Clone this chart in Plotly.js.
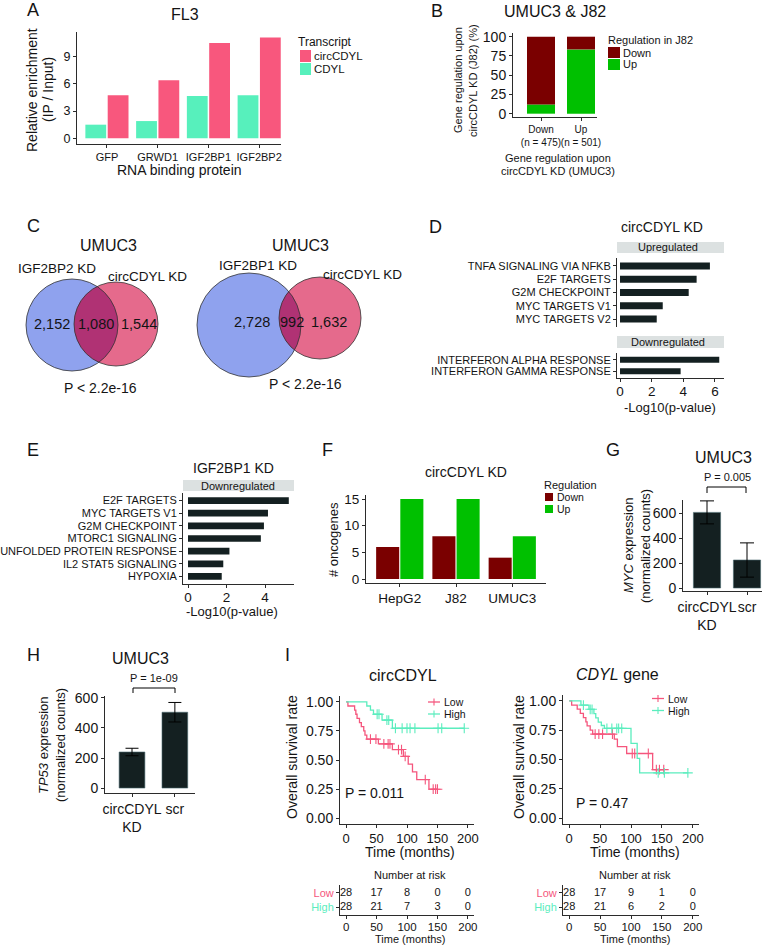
<!DOCTYPE html>
<html><head><meta charset="utf-8">
<script src="https://cdn.plot.ly/plotly-3.0.1.min.js"></script>
<style>html,body{margin:0;padding:0;background:#fff}#chart{width:778px;height:945px}</style>
</head><body><div id="chart"></div>
<script>
// ---------------- DATA ----------------
// A
const aProteins = ['GFP', 'GRWD1', 'IGF2BP1', 'IGF2BP2'];
const aCircCDYL = [4.75, 6.4, 10.5, 11.1];
const aCDYL = [1.5, 1.9, 4.65, 4.75];
// B
const bUmuc3Groups = ['Down<br>(n = 475)', 'Up<br>(n = 501)'];
const bUpInJ82 = [12, 83.5];
const bDownInJ82 = [88, 16.5];
// C
const cLeftSets = ['IGF2BP2 KD', 'circCDYL KD'];
const cLeftCounts = [2152, 1080, 1544];
const cRightSets = ['IGF2BP1 KD', 'circCDYL KD'];
const cRightCounts = [2728, 992, 1632];
const cPValue = 'P < 2.2e-16';
// D
const dUpTerms = ['TNFA SIGNALING VIA NFKB', 'E2F TARGETS', 'G2M CHECKPOINT', 'MYC TARGETS V1', 'MYC TARGETS V2'];
const dUpLogP = [5.68, 4.84, 4.34, 2.7, 2.32];
const dDownTerms = ['INTERFERON ALPHA RESPONSE', 'INTERFERON GAMMA RESPONSE'];
const dDownLogP = [6.27, 3.83];
// E
const eTerms = ['E2F TARGETS', 'MYC TARGETS V1', 'G2M CHECKPOINT', 'MTORC1 SIGNALING', 'UNFOLDED PROTEIN RESPONSE', 'IL2 STAT5 SIGNALING', 'HYPOXIA'];
const eLogP = [5.23, 4.15, 3.94, 3.78, 2.15, 1.83, 1.75];
// F
const fCellLines = ['HepG2', 'J82', 'UMUC3'];
const fDown = [6, 8, 4];
const fUp = [15, 15, 8];
// G
const gGroups = ['circCDYL<br>KD', 'scr'];
const gMycMean = [605, 224];
const gMycErr = [92, 137];
// H
const hGroups = ['circCDYL<br>KD', 'scr'];
const hTp53Mean = [240, 505];
const hTp53Err = [25, 65];
// I  (Kaplan-Meier)
const kmCircLowT = [0, 3, 14, 16, 18, 22, 25, 29, 31, 34, 53, 76, 94, 102, 109, 116, 136, 150];
const kmCircLowS = [1, 0.964, 0.929, 0.893, 0.857, 0.821, 0.786, 0.75, 0.714, 0.679, 0.639, 0.59, 0.531, 0.465, 0.398, 0.332, 0.249, 0.249];
const kmCircLowCens = [40, 49, 62, 69, 72, 86, 91, 97, 130, 143, 147, 150];
const kmCircHighT = [0, 34, 40, 45, 59, 76, 194];
const kmCircHighS = [1, 0.964, 0.929, 0.893, 0.843, 0.773, 0.773];
const kmCircHighCens = [51, 54, 67, 70, 81, 92, 100, 105, 113, 151, 157, 194];
const kmGeneLowT = [0, 4, 13, 18, 23, 27, 29, 34, 38, 73, 78, 93, 135, 153];
const kmGeneLowS = [1, 0.964, 0.929, 0.893, 0.857, 0.821, 0.786, 0.75, 0.716, 0.674, 0.61, 0.551, 0.414, 0.414];
const kmGeneLowCens = [42, 48, 54, 70, 102, 106, 128, 141, 146, 153];
const kmGeneHighT = [0, 19, 32, 40, 43, 47, 52, 57, 100, 110, 114, 192];
const kmGeneHighS = [1, 0.964, 0.928, 0.892, 0.855, 0.818, 0.79, 0.766, 0.637, 0.509, 0.386, 0.386];
const kmGeneHighCens = [23, 34, 37, 61, 69, 77, 80, 85, 144, 154, 192];
const riskTimes = [0, 50, 100, 150, 200];
const riskCircLow = [28, 17, 8, 0, 0];
const riskCircHigh = [28, 21, 7, 3, 0];
const riskGeneLow = [28, 17, 9, 1, 0];
const riskGeneHigh = [28, 21, 6, 2, 0];
const pCirc = 'P = 0.011';
const pGene = 'P = 0.47';

// ---------------- STYLE ----------------
const W = 778, H = 945;
const FONT = 'Liberation Sans, Arial, Helvetica, sans-serif';
const INK = '#141414';
const AX = '#2b2b2b';
const C_CIRC = '#F8577D', C_CDYL = '#57F0BC';
const DARKRED = '#7A0000', GREEN = '#00C000';
const DARKBAR = '#142021';
const KM_LOW = '#F5567D', KM_HIGH = '#5BEDBE';
const V_BLUE = '#8FA2EE', V_PINK = '#E56A8C', V_LENS = '#B03274';

const PX = x => x / W, PY = y => 1 - y / H;
const xd = (a, b) => [a / W, b / W];
const yd = (top, bottom) => [1 - bottom / H, 1 - top / H];

const annotations = [], shapes = [];
function txt(text, x, y, size, o = {}) {
  annotations.push({
    text, x: PX(x), y: PY(y), xref: 'paper', yref: 'paper', showarrow: false, borderpad: 0,
    xanchor: o.anchor || 'center', yanchor: 'middle', textangle: o.angle || 0,
    font: {family: FONT, size, color: o.color || INK}
  });
}
function rect(x0, y0, x1, y1, fill) {
  shapes.push({type: 'rect', xref: 'paper', yref: 'paper', x0: PX(x0), x1: PX(x1), y0: PY(y1), y1: PY(y0),
    fillcolor: fill, line: {width: 0}});
}
function seg(x0, y0, x1, y1, color, w) {
  shapes.push({type: 'line', xref: 'paper', yref: 'paper', x0: PX(x0), y0: PY(y0), x1: PX(x1), y1: PY(y1),
    line: {color, width: w || 1}});
}
function circ(cx, cy, r, fill, lineColor) {
  shapes.push({type: 'circle', xref: 'paper', yref: 'paper', x0: PX(cx - r), x1: PX(cx + r), y0: PY(cy + r), y1: PY(cy - r),
    fillcolor: fill, line: {color: lineColor || fill, width: lineColor ? 0.8 : 0}});
}
function lens(c1, r1, c2, r2, fill) {
  const dx = c2[0] - c1[0], dy = c2[1] - c1[1], d = Math.hypot(dx, dy);
  const a = (r1 * r1 - r2 * r2 + d * d) / (2 * d);
  const t12 = Math.atan2(dy, dx), t21 = t12 + Math.PI;
  const al1 = Math.acos(a / r1), al2 = Math.acos((d - a) / r2);
  const pts = [], N = 48;
  for (let i = 0; i <= N; i++) { const th = t12 - al1 + 2 * al1 * i / N; pts.push([c1[0] + r1 * Math.cos(th), c1[1] + r1 * Math.sin(th)]); }
  for (let i = 0; i <= N; i++) { const th = t21 - al2 + 2 * al2 * i / N; pts.push([c2[0] + r2 * Math.cos(th), c2[1] + r2 * Math.sin(th)]); }
  const path = pts.map((p, i) => (i ? 'L' : 'M') + PX(p[0]).toFixed(5) + ',' + PY(p[1]).toFixed(5)).join(' ') + ' Z';
  shapes.push({type: 'path', xref: 'paper', yref: 'paper', path, fillcolor: fill, line: {width: 0}});
}
function axis(domain, extra) {
  return Object.assign({
    domain, showgrid: false, zeroline: false, showline: true, linecolor: AX, linewidth: 1,
    ticks: 'outside', ticklen: 3, tickcolor: AX, tickwidth: 1, fixedrange: true, tickangle: 0,
    tickfont: {family: FONT, size: 12, color: INK}
  }, extra);
}
function catAxis(domain, cats, extra) {
  return axis(domain, Object.assign({type: 'category', categoryorder: 'array', categoryarray: cats,
    tickmode: 'array', tickvals: cats, ticktext: cats}, extra));
}
const tf = s => ({family: FONT, size: s, color: INK});
function survAt(times, surv, t) { let s = surv[0]; for (let i = 0; i < times.length; i++) if (times[i] <= t) s = surv[i]; return s; }

const traces = [];
const layout = {
  width: W, height: H, margin: {l: 0, r: 0, t: 0, b: 0},
  paper_bgcolor: '#ffffff', plot_bgcolor: 'rgba(0,0,0,0)', showlegend: false,
  barmode: 'overlay', font: {family: FONT, color: INK}, annotations, shapes
};

// ---------------- A ----------------
traces.push({type: 'bar', x: aProteins, y: aCDYL, xaxis: 'x', yaxis: 'y', width: 0.41, offset: -0.425, marker: {color: C_CDYL}});
traces.push({type: 'bar', x: aProteins, y: aCircCDYL, xaxis: 'x', yaxis: 'y', width: 0.41, offset: 0.015, marker: {color: C_CIRC}});
layout.xaxis = catAxis(xd(77, 281), aProteins, {anchor: 'y', range: [-0.59, 3.43], tickfont: tf(11)});
layout.yaxis = axis(yd(32, 144), {anchor: 'x', range: [-0.63, 11.72], tickvals: [0, 3, 6, 9], tickfont: tf(12.5)});
txt('A', 33, 10, 18);
txt('FL3', 185, 14, 16);
txt('Relative enrichment', 32, 90, 14, {angle: -90});
txt('(IP / Input)', 48, 90, 14, {angle: -90});
txt('RNA binding protein', 179, 170, 14);
txt('Transcript', 297, 42, 12, {anchor: 'left'});
rect(300, 50, 311, 62, C_CIRC); txt('circCDYL', 313, 56, 11.5, {anchor: 'left'});
rect(300, 63, 311, 75, C_CDYL); txt('CDYL', 313, 69, 11.5, {anchor: 'left'});

// ---------------- B ----------------
traces.push({type: 'bar', x: bUmuc3Groups, y: bUpInJ82, xaxis: 'x2', yaxis: 'y2', width: 0.7, marker: {color: GREEN}});
traces.push({type: 'bar', x: bUmuc3Groups, y: bDownInJ82, base: bUpInJ82, xaxis: 'x2', yaxis: 'y2', width: 0.7, marker: {color: DARKRED}});
layout.xaxis2 = catAxis(xd(513, 597), bUmuc3Groups, {anchor: 'y2', range: [-0.7, 1.4], tickfont: tf(10)});
layout.yaxis2 = axis(yd(33, 117), {anchor: 'x2', range: [-4.3, 104.8], tickvals: [0, 25, 50, 75, 100], tickfont: tf(14)});
txt('B', 437, 11, 18);
txt('UMUC3 &amp; J82', 555, 11, 16);
txt('Gene regulation upon', 458, 80, 11, {angle: -90});
txt('circCDYL KD (J82) (%)', 473, 80, 11, {angle: -90});
txt('Gene regulation upon', 558, 158, 11);
txt('circCDYL KD (UMUC3)', 558, 171, 11);
txt('Regulation in J82', 607, 40, 11, {anchor: 'left'});
rect(608, 47, 620, 58, DARKRED); txt('Down', 622, 52.5, 11, {anchor: 'left'});
rect(608, 59, 620, 70, GREEN); txt('Up', 622, 64.5, 11, {anchor: 'left'});

// ---------------- C (Venn) ----------------
const fmt = n => n.toLocaleString('en-US');
txt('C', 33, 226, 18);
(function () {
  const b = [72, 325], rb = 46, p = [116, 324], rp = 42;
  circ(b[0], b[1], rb, V_BLUE); circ(p[0], p[1], rp, V_PINK); lens(b, rb, p, rp, V_LENS);
  circ(b[0], b[1], rb, 'rgba(0,0,0,0)', '#333'); circ(p[0], p[1], rp, 'rgba(0,0,0,0)', '#333');
  txt('UMUC3', 108, 246, 16);
  txt(cLeftSets[0], 57, 268, 13.5); txt(cLeftSets[1], 147, 276, 13.5);
  txt(fmt(cLeftCounts[0]), 52, 324, 14.5); txt(fmt(cLeftCounts[1]), 96, 324, 14.5); txt(fmt(cLeftCounts[2]), 139, 324, 14.5);
  txt(cPValue, 100, 388, 14);
})();
(function () {
  const b = [249, 325], rb = 52, p = [320, 318], rp = 41;
  circ(b[0], b[1], rb, V_BLUE); circ(p[0], p[1], rp, V_PINK); lens(b, rb, p, rp, V_LENS);
  circ(b[0], b[1], rb, 'rgba(0,0,0,0)', '#333'); circ(p[0], p[1], rp, 'rgba(0,0,0,0)', '#333');
  txt('UMUC3', 300, 246, 16);
  txt(cRightSets[0], 258, 265, 13.5); txt(cRightSets[1], 362, 274, 13.5);
  txt(fmt(cRightCounts[0]), 252, 322, 14.5); txt(fmt(cRightCounts[1]), 292, 322, 14.5); txt(fmt(cRightCounts[2]), 329, 322, 14.5);
  txt(cPValue, 305, 384, 14);
})();

// ---------------- D ----------------
traces.push({type: 'bar', orientation: 'h', y: dUpTerms, x: dUpLogP, xaxis: 'x3', yaxis: 'y3', width: 0.53, marker: {color: DARKBAR}});
traces.push({type: 'bar', orientation: 'h', y: dDownTerms, x: dDownLogP, xaxis: 'x4', yaxis: 'y4', width: 0.53, marker: {color: DARKBAR}});
layout.xaxis3 = axis(xd(617, 724), {anchor: 'y3', range: [-0.19, 6.57], showline: false, ticks: '', showticklabels: false});
layout.yaxis3 = catAxis(yd(258, 327), dUpTerms, {anchor: 'x3', range: [4.6, -0.6], tickfont: tf(11)});
layout.xaxis4 = axis(xd(617, 724), {anchor: 'y4', range: [-0.19, 6.57], tickvals: [0, 2, 4, 6], tickfont: tf(13.5), ticklabelstandoff: -2});
layout.yaxis4 = catAxis(yd(353, 378), dDownTerms, {anchor: 'x4', range: [1.6, -0.6], tickfont: tf(11)});
txt('D', 435, 227, 18);
txt('circCDYL KD', 662, 227, 14);
rect(617, 242, 724, 253, '#DCE1E1'); txt('Upregulated', 668, 247.5, 11);
rect(617, 336, 724, 348, '#DCE1E1'); txt('Downregulated', 668, 342, 11);
txt('-Log10(p-value)', 670, 407, 13);

// ---------------- E ----------------
traces.push({type: 'bar', orientation: 'h', y: eTerms, x: eLogP, xaxis: 'x5', yaxis: 'y5', width: 0.53, marker: {color: DARKBAR}});
layout.xaxis5 = axis(xd(183, 294), {anchor: 'y5', range: [-0.26, 5.5], tickvals: [0, 2, 4], tickfont: tf(13.5), ticklabelstandoff: -2});
layout.yaxis5 = catAxis(yd(493, 584), eTerms, {anchor: 'x5', range: [6.6, -0.6], tickfont: tf(11)});
txt('E', 33, 450, 18);
txt('IGF2BP1 KD', 234, 468, 14);
rect(183, 480, 294, 491, '#DCE1E1'); txt('Downregulated', 238, 485.5, 11);
txt('-Log10(p-value)', 232, 611, 13);

// ---------------- F ----------------
traces.push({type: 'bar', x: fCellLines, y: fDown, xaxis: 'x6', yaxis: 'y6', width: 0.41, offset: -0.42, marker: {color: DARKRED}});
traces.push({type: 'bar', x: fCellLines, y: fUp, xaxis: 'x6', yaxis: 'y6', width: 0.41, offset: 0.01, marker: {color: GREEN}});
layout.xaxis6 = catAxis(xd(366, 546), fCellLines, {anchor: 'y6', range: [-0.6, 2.6], tickfont: tf(13.5)});
layout.yaxis6 = axis(yd(495, 583), {anchor: 'x6', range: [-0.75, 15.75], tickvals: [0, 5, 10, 15], tickfont: tf(13.5)});
txt('F', 327, 450, 18);
txt('circCDYL KD', 466, 472, 14);
txt('# oncogenes', 333, 540, 13, {angle: -90});
txt('Regulation', 543, 485, 11, {anchor: 'left'});
rect(545, 493, 553, 501, DARKRED); txt('Down', 556, 497, 10.5, {anchor: 'left'});
rect(545, 505, 553, 513, GREEN); txt('Up', 556, 509, 10.5, {anchor: 'left'});

// ---------------- G ----------------
traces.push({type: 'bar', x: gGroups, y: gMycMean, xaxis: 'x7', yaxis: 'y7', width: 0.68,
  marker: {color: DARKBAR, line: {color: '#4a6a70', width: 0.6}},
  error_y: {type: 'data', array: gMycErr, visible: true, color: '#000', thickness: 1, width: 7}});
layout.xaxis7 = catAxis(xd(683, 762), gGroups, {anchor: 'y7', range: [-0.6, 1.375], tickfont: tf(14)});
layout.yaxis7 = axis(yd(500, 591), {anchor: 'x7', range: [-24, 704], tickvals: [0, 200, 400, 600], tickfont: tf(14)});
txt('G', 613, 450, 18);
txt('UMUC3', 723, 457, 16);
txt('P = 0.005', 727, 477, 11);
seg(707, 487, 746, 487, '#000', 1); seg(707, 487, 707, 493, '#000', 1); seg(746, 487, 746, 493, '#000', 1);
txt('<i>MYC</i> expression', 628, 546, 13, {angle: -90});
txt('(normalized counts)', 645, 546, 13, {angle: -90});

// ---------------- H ----------------
traces.push({type: 'bar', x: hGroups, y: hTp53Mean, xaxis: 'x8', yaxis: 'y8', width: 0.6,
  marker: {color: DARKBAR, line: {color: '#4a6a70', width: 0.6}},
  error_y: {type: 'data', array: hTp53Err, visible: true, color: '#000', thickness: 1, width: 6.5}});
layout.xaxis8 = catAxis(xd(105, 195), hGroups, {anchor: 'y8', range: [-0.63, 1.47], tickfont: tf(14)});
layout.yaxis8 = axis(yd(696, 793), {anchor: 'x8', range: [-33, 613], tickvals: [0, 200, 400, 600], tickfont: tf(14)});
txt('H', 33, 655, 18);
txt('UMUC3', 140, 658, 16);
txt('P = 1e-09', 154, 678, 11);
seg(133, 688, 175, 688, '#000', 1); seg(133, 688, 133, 693, '#000', 1); seg(175, 688, 175, 693, '#000', 1);
txt('<i>TP53</i> expression', 43, 745, 13, {angle: -90});
txt('(normalized counts)', 60, 745, 13, {angle: -90});

// ---------------- I ----------------
function km(xa, ya, T, S, cens, color) {
  traces.push({type: 'scatter', mode: 'lines', x: T, y: S, xaxis: xa, yaxis: ya, line: {shape: 'hv', color, width: 1.3}, cliponaxis: false});
  traces.push({type: 'scatter', mode: 'markers', x: cens, y: cens.map(t => survAt(T, S, t)), xaxis: xa, yaxis: ya, cliponaxis: false,
    marker: {symbol: 'cross-thin', size: 7, color, line: {color, width: 1.1}}});
}
km('x9', 'y9', kmCircLowT, kmCircLowS, kmCircLowCens, KM_LOW);
km('x9', 'y9', kmCircHighT, kmCircHighS, kmCircHighCens, KM_HIGH);
km('x10', 'y10', kmGeneLowT, kmGeneLowS, kmGeneLowCens, KM_LOW);
km('x10', 'y10', kmGeneHighT, kmGeneHighS, kmGeneHighCens, KM_HIGH);
const kmY = {range: [-0.05, 1.05], tickvals: [0, 0.25, 0.5, 0.75, 1], ticktext: ['0.00', '0.25', '0.50', '0.75', '1.00'], tickfont: tf(14)};
const kmX = {range: [-10, 210], tickvals: riskTimes, tickfont: tf(13), ticklabelstandoff: -1};
layout.xaxis9 = axis(xd(340, 474), Object.assign({anchor: 'y9'}, kmX));
layout.yaxis9 = axis(yd(696, 824), Object.assign({anchor: 'x9'}, kmY));
layout.xaxis10 = axis(xd(563, 699), Object.assign({anchor: 'y10'}, kmX));
layout.yaxis10 = axis(yd(695, 824), Object.assign({anchor: 'x10'}, kmY));

// risk tables
function riskTable(xa, ya, low, high) {
  traces.push({type: 'scatter', mode: 'text', x: riskTimes, y: riskTimes.map(() => 1), text: low.map(String), xaxis: xa, yaxis: ya, textfont: tf(11), cliponaxis: false});
  traces.push({type: 'scatter', mode: 'text', x: riskTimes, y: riskTimes.map(() => 0), text: high.map(String), xaxis: xa, yaxis: ya, textfont: tf(11), cliponaxis: false});
}
riskTable('x11', 'y11', riskCircLow, riskCircHigh);
riskTable('x12', 'y12', riskGeneLow, riskGeneHigh);
const tblY = {range: [-0.57, 1.57], tickmode: 'array', tickvals: [0, 1], tickfont: tf(11),
  ticktext: ['<span style="color:' + KM_HIGH + '">High</span>', '<span style="color:' + KM_LOW + '">Low</span>']};
const tblX = {range: [-10, 210], tickvals: riskTimes, tickfont: tf(11.5), ticklabelstandoff: -2};
layout.xaxis11 = axis(xd(340, 474), Object.assign({anchor: 'y11'}, tblX));
layout.yaxis11 = axis(yd(885, 915), Object.assign({anchor: 'x11'}, tblY));
layout.xaxis12 = axis(xd(563, 699), Object.assign({anchor: 'y12'}, tblX));
layout.yaxis12 = axis(yd(885, 915), Object.assign({anchor: 'x12'}, tblY));

txt('I', 287, 655, 18);
txt('circCDYL', 403, 675, 16);
txt('<i>CDYL</i> gene', 617, 674, 16);
txt('Overall survival rate', 292, 757, 14, {angle: -90});
txt('Overall survival rate', 519, 757, 14, {angle: -90});
txt('Time (months)', 410, 852, 14);
txt('Time (months)', 635, 852, 14);
txt(pCirc, 374, 793, 14);
txt(pGene, 602, 803, 14);
txt('Number at risk', 410, 875, 11);
txt('Number at risk', 635, 875, 11);
txt('Time (months)', 410, 939, 11);
txt('Time (months)', 635, 939, 11);
// KM legends
function kmLegend(x0, yLow, yHigh) {
  [[yLow, KM_LOW, 'Low'], [yHigh, KM_HIGH, 'High']].forEach(([y, c, t]) => {
    seg(x0, y, x0 + 12, y, c, 1.3); seg(x0 + 6, y - 3.5, x0 + 6, y + 3.5, c, 1.1);
    txt(t, x0 + 15, y, 10.5, {anchor: 'left'});
  });
}
kmLegend(428, 702, 714);
kmLegend(652, 698.5, 710.5);

Plotly.newPlot('chart', traces, layout, {displayModeBar: false, staticPlot: true});
</script></body></html>
